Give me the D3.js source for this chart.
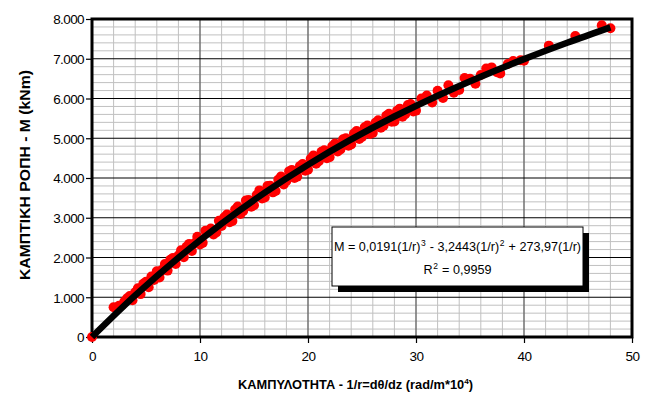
<!DOCTYPE html>
<html>
<head>
<meta charset="utf-8">
<script src="https://cdn.jsdelivr.net/npm/d3@7"></script>
<style>
  body { margin: 0; background: #fff; }
  text { font-family: "Liberation Sans", Arial, sans-serif; }
</style>
</head>
<body>
<div id="chart"></div>
<script>
// measured points: curvature (rad/m*10^4) and moment (kNm)
var curvature = [0,
  2.0, 2.25, 2.5, 2.75, 3.0, 3.25, 3.5, 3.75, 4.0, 4.25, 4.5, 4.75, 5.0, 5.25, 5.5, 5.75,
  6.0, 6.25, 6.5, 6.75, 7.0, 7.25, 7.5, 7.75, 8.0, 8.25, 8.5, 8.75, 9.0, 9.25, 9.5, 9.75,
  10.0, 10.25, 10.5, 10.75, 11.0, 11.25, 11.5, 11.75, 12.0, 12.25, 12.5, 12.75, 13.0, 13.25, 13.5, 13.75,
  14.0, 14.25, 14.5, 14.75, 15.0, 15.25, 15.5, 15.75, 16.0, 16.25, 16.5, 16.75, 17.0, 17.25, 17.5, 17.75,
  18.0, 18.25, 18.5, 18.75, 19.0, 19.25, 19.5, 19.75, 20.0, 20.25, 20.5, 20.75, 21.0, 21.25, 21.5, 21.75,
  22.0, 22.25, 22.5, 22.75, 23.0, 23.25, 23.5, 23.75, 24.0, 24.25, 24.5, 24.75, 25.0, 25.25, 25.5, 25.75,
  26.0, 26.25, 26.5, 26.75, 27.0, 27.25, 27.5, 27.75, 28.0, 28.25, 28.5, 28.75, 29.0, 29.25, 29.5, 29.75,
  30.0, 30.5, 31.0, 31.5, 32.0, 32.5, 33.0, 33.5, 34.0, 34.5, 35.0, 35.5, 36.0, 36.5, 37.0, 37.5, 37.8,
  38.5, 39.0, 39.7, 40.0, 42.3, 44.75, 47.2, 48.0];
var moment = [0,
  750, 710, 785, 800, 893, 977, 1030, 923, 1125, 1227, 1079, 1340, 1391, 1252, 1522, 1432,
  1651, 1500, 1689, 1837, 1670, 1943, 1990, 1837, 2049, 2180, 2006, 2272, 2342, 2162, 2356, 2520,
  2329, 2368, 2671, 2674, 2727, 2579, 2631, 2922, 2793, 3014, 3080, 2885, 2920, 3205, 3284, 3093,
  3172, 3431, 3449, 3277, 3314, 3571, 3688, 3485, 3511, 3797, 3803, 3639, 3674, 3959, 4038, 3838,
  3927, 4166, 4204, 4002, 4035, 4298, 4350, 4182, 4209, 4486, 4563, 4359, 4420, 4660, 4695, 4500,
  4525, 4800, 4870, 4669, 4718, 4977, 5000, 4813, 4841, 5119, 5181, 4983, 5035, 5277, 5318, 5110,
  5136, 5392, 5452, 5263, 5318, 5563, 5618, 5413, 5422, 5691, 5745, 5539, 5602, 5836, 5859, 5672,
  5695, 6000, 6074, 5898, 6196, 6013, 6335, 6145, 6215, 6515, 6494, 6372, 6589, 6756, 6783, 6659, 6632,
  6869, 6943, 6965, 6950, 7330, 7570, 7842, 7768];

// trendline
var trendX = [0, 4, 8, 12, 16, 20, 24, 28, 32, 36, 40, 44, 48];
var trendM = [0, 1045, 1994, 2853, 3631, 4334, 4971, 5547, 6071, 6549, 6990, 7401, 7788];

var xTicks = [0, 10, 20, 30, 40, 50];
var yTicks = [0, 1000, 2000, 3000, 4000, 5000, 6000, 7000, 8000];
var yTickLabels = ["0", "1.000", "2.000", "3.000", "4.000", "5.000", "6.000", "7.000", "8.000"];

var width = 649, height = 394;
var margin = { top: 19, right: 17, bottom: 57, left: 92 };
var w = width - margin.left - margin.right,
    h = height - margin.top - margin.bottom;

var svg = d3.select("#chart").append("svg")
  .attr("width", width)
  .attr("height", height);

var g = svg.append("g")
  .attr("transform", "translate(" + margin.left + "," + margin.top + ")");

var x = d3.scaleLinear().domain([0, 50]).range([0, w]);
var y = d3.scaleLinear().domain([0, 8000]).range([h, 0]);

// minor grid
g.append("g")
  .selectAll("line")
  .data(d3.range(0, 8001, 200).filter(d => d % 1000 != 0))
  .enter().append("line")
  .attr("x1", 0).attr("x2", w)
  .attr("y1", d => y(d)).attr("y2", d => y(d))
  .attr("stroke", "#c0c0c0").attr("stroke-width", 1);

g.append("g")
  .selectAll("line")
  .data(d3.range(0, 51, 2).filter(d => d % 10 != 0))
  .enter().append("line")
  .attr("x1", d => x(d)).attr("x2", d => x(d))
  .attr("y1", 0).attr("y2", h)
  .attr("stroke", "#c0c0c0").attr("stroke-width", 1);

// major grid
g.append("g")
  .selectAll("line")
  .data(xTicks.slice(1, -1))
  .enter().append("line")
  .attr("x1", d => x(d)).attr("x2", d => x(d))
  .attr("y1", 0).attr("y2", h)
  .attr("stroke", "#707070").attr("stroke-width", 1.5);

g.append("g")
  .selectAll("line")
  .data(yTicks.slice(1, -1))
  .enter().append("line")
  .attr("x1", 0).attr("x2", w)
  .attr("y1", d => y(d)).attr("y2", d => y(d))
  .attr("stroke", "#000").attr("stroke-width", 1.2);

// axes
var xAxis = g.append("g")
  .attr("transform", "translate(0," + h + ")")
  .call(d3.axisBottom(x).tickValues(xTicks).tickSize(6).tickPadding(8));
var yAxis = g.append("g")
  .call(d3.axisLeft(y).tickValues(yTicks).tickSize(6).tickPadding(2)
    .tickFormat((d, i) => yTickLabels[i]));

[xAxis, yAxis].forEach(function (a) {
  a.select(".domain").remove();
  a.selectAll("line").attr("stroke", "#000").attr("stroke-width", 1.2);
  a.selectAll("text")
    .attr("font-family", "'Liberation Sans', Arial, sans-serif")
    .attr("font-size", 13.5)
    .attr("letter-spacing", -0.6)
    .attr("fill", "#000");
});
yAxis.selectAll("text").attr("dy", "0.36em");

// plot border
g.append("rect")
  .attr("x", 0).attr("y", 0)
  .attr("width", w).attr("height", h)
  .attr("fill", "none")
  .attr("stroke", "#000").attr("stroke-width", 3);

// points
g.append("g")
  .selectAll("circle")
  .data(curvature.map((c, i) => ({ c: c, m: moment[i] })))
  .enter().append("circle")
  .attr("cx", d => x(d.c))
  .attr("cy", d => y(d.m))
  .attr("r", 5)
  .attr("fill", "#ff0000");

// trendline
g.append("path")
  .datum(trendX.map((c, i) => ({ c: c, m: trendM[i] })))
  .attr("fill", "none")
  .attr("stroke", "#000")
  .attr("stroke-width", 6.5)
  .attr("d", d3.line()
    .x(d => x(d.c))
    .y(d => y(d.m))
    .curve(d3.curveMonotoneX));

// equation box
var box = { x: 332, y: 227, w: 251, h: 59 };
svg.append("rect")
  .attr("x", box.x + 6).attr("y", box.y + 6)
  .attr("width", box.w).attr("height", box.h)
  .attr("fill", "#000");
svg.append("rect")
  .attr("x", box.x).attr("y", box.y)
  .attr("width", box.w).attr("height", box.h)
  .attr("fill", "#fff")
  .attr("stroke", "#000").attr("stroke-width", 1);

var eq = svg.append("text")
  .attr("x", box.w / 2 + box.x).attr("y", 251)
  .attr("text-anchor", "middle")
  .attr("font-size", 12.6);
eq.append("tspan").text("M = 0,0191(1/r)");
eq.append("tspan").attr("dx", 0.6).attr("dy", -5).attr("font-size", 8.5).text("3");
eq.append("tspan").attr("dx", 0.6).attr("dy", 5).text(" - 3,2443(1/r)");
eq.append("tspan").attr("dx", 0.6).attr("dy", -5).attr("font-size", 8.5).text("2");
eq.append("tspan").attr("dx", 0.6).attr("dy", 5).text(" + 273,97(1/r)");

var r2 = svg.append("text")
  .attr("x", box.w / 2 + box.x).attr("y", 274)
  .attr("text-anchor", "middle")
  .attr("font-size", 12.6);
r2.append("tspan").text("R");
r2.append("tspan").attr("dx", 0.6).attr("dy", -5).attr("font-size", 8.5).text("2");
r2.append("tspan").attr("dx", 0.6).attr("dy", 5).text(" = 0,9959");

// axis titles
var xt = svg.append("text")
  .attr("x", 238).attr("y", 389)
  .attr("font-size", 12.5)
  .attr("font-weight", "bold")
  .attr("textLength", 235)
  .attr("lengthAdjust", "spacingAndGlyphs");
xt.append("tspan").text("ΚΑΜΠΥΛΟΤΗΤΑ - 1/r=dθ/dz (rad/m*10");
xt.append("tspan").attr("dy", -5).attr("font-size", 8).text("4");
xt.append("tspan").attr("dy", 5).text(")");

svg.append("text")
  .attr("transform", "translate(30,175) rotate(-90)")
  .attr("text-anchor", "middle")
  .attr("font-size", 14)
  .attr("font-weight", "bold")
  .attr("textLength", 210)
  .attr("lengthAdjust", "spacingAndGlyphs")
  .text("ΚΑΜΠΤΙΚΗ ΡΟΠΗ - Μ (kNm)");
</script>
</body>
</html>
